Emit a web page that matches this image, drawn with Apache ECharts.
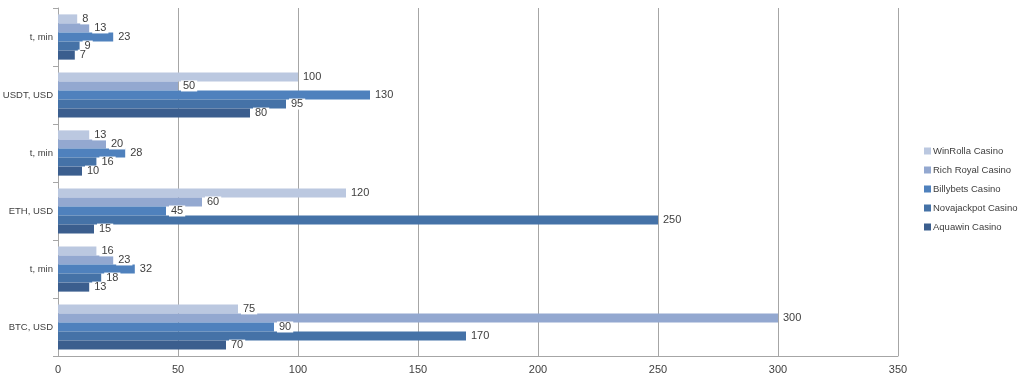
<!DOCTYPE html>
<html><head><meta charset="utf-8">
<script src="https://cdn.jsdelivr.net/npm/echarts@6/dist/echarts.min.js"></script>
<style>html,body{margin:0;padding:0;background:#fff}#c{width:1024px;height:378px}</style>
</head><body><div id="c"></div>
<script>
// bottom to top
const categories = ['BTC, USD', 't, min', 'ETH, USD', 't, min', 'USDT, USD', 't, min'];
// drawn top to bottom within each category
const seriesNames = ['WinRolla Casino', 'Rich Royal Casino', 'Billybets Casino', 'Novajackpot Casino', 'Aquawin Casino'];
const winRolla = [75, 16, 120, 13, 100, 8];
const richRoyal = [300, 23, 60, 20, 50, 13];
const billybets = [90, 32, 45, 28, 130, 23];
const novajackpot = [170, 18, 250, 16, 95, 9];
const aquawin = [70, 13, 15, 10, 80, 7];
const xTicks = [0, 50, 100, 150, 200, 250, 300, 350];

const values = [winRolla, richRoyal, billybets, novajackpot, aquawin];
const colors = ['#BBC8E0', '#93A8D0', '#4F81BD', '#4572A7', '#3B5E8E'];
const font = 'Liberation Sans, Arial, sans-serif';

const chart = echarts.init(document.getElementById('c'));
chart.setOption({
  animation: false,
  textStyle: {fontFamily: font},
  grid: {left: 58, right: 126, top: 8, bottom: 22, containLabel: false, outerBoundsMode: 'none'},
  legend: {
    orient: 'vertical', left: 919, top: 141,
    data: seriesNames, itemWidth: 7, itemHeight: 7, itemGap: 9, icon: 'rect',
    textStyle: {fontSize: 9.5, color: '#404040', fontFamily: font, padding: [0,0,0,-3]}
  },
  xAxis: {
    type: 'value', min: xTicks[0], max: xTicks[xTicks.length - 1], interval: 50,
    axisLine: {show: true, lineStyle: {color: '#A6A6A6'}},
    axisTick: {show: false},
    axisLabel: {color: '#404040', fontSize: 11, margin: 8},
    splitLine: {show: true, lineStyle: {color: '#A6A6A6', width: 1}}
  },
  yAxis: {
    type: 'category', data: categories,
    axisLine: {show: true, lineStyle: {color: '#A6A6A6'}},
    axisTick: {show: true, length: 5, lineStyle: {color: '#A6A6A6'}},
    axisLabel: {color: '#404040', fontSize: 9.5, margin: 5, fontFamily: font}
  },
  series: seriesNames.map((n, i) => ({
    name: n, type: 'bar', data: values[i],
    barGap: '0%', barCategoryGap: '22%',
    itemStyle: {color: colors[i]},
    label: {show: true, position: 'right', distance: 3, color: '#404040', fontSize: 11,
      backgroundColor: '#fff', padding: [0, 2, 0, 2]}
  }))
});
</script></body></html>
